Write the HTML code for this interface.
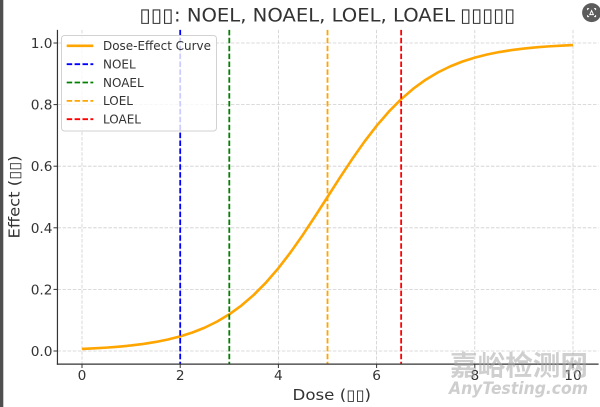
<!DOCTYPE html>
<html>
<head>
<meta charset="utf-8">
<style>
  html, body { margin: 0; padding: 0; background: #ffffff; }
  svg { display: block; }
  text { font-family: "DejaVu Sans", "Liberation Sans", "Noto Sans CJK SC", sans-serif; }
</style>
</head>
<body>
<svg width="600" height="407" viewBox="0 0 600 407" xmlns="http://www.w3.org/2000/svg">
  <rect x="0" y="0" width="600" height="407" fill="#ffffff"/>

  <!-- left dark border -->
  <rect x="0" y="0" width="3.3" height="407" fill="#4f4f4f"/>

  <!-- grid -->
  <g stroke="#cfcfcf" stroke-width="0.8" stroke-dasharray="3.5 1.6" fill="none">
    <line x1="82" y1="29.9" x2="82" y2="364.1"/>
    <line x1="180.2" y1="29.9" x2="180.2" y2="364.1"/>
    <line x1="278.4" y1="29.9" x2="278.4" y2="364.1"/>
    <line x1="376.6" y1="29.9" x2="376.6" y2="364.1"/>
    <line x1="474.8" y1="29.9" x2="474.8" y2="364.1"/>
    <line x1="573" y1="29.9" x2="573" y2="364.1"/>
    <line x1="57.45" y1="351" x2="598.55" y2="351"/>
    <line x1="57.45" y1="289.4" x2="598.55" y2="289.4"/>
    <line x1="57.45" y1="227.8" x2="598.55" y2="227.8"/>
    <line x1="57.45" y1="166.2" x2="598.55" y2="166.2"/>
    <line x1="57.45" y1="104.6" x2="598.55" y2="104.6"/>
    <line x1="57.45" y1="43" x2="598.55" y2="43"/>
  </g>

  <!-- dose-effect curve -->
  <polyline fill="none" stroke="#FFA500" stroke-width="2.6" stroke-linejoin="round" stroke-linecap="butt"
    points="82,348.94 94.275,348.36 106.55,347.62 118.825,346.67 131.1,345.46 143.375,343.92 155.65,341.97 167.925,339.50 180.2,336.39 192.475,332.49 204.75,327.64 217.025,321.63 229.3,314.29 241.575,305.40 253.85,294.81 266.125,282.41 278.4,268.17 290.675,252.19 302.95,234.72 315.225,216.15 327.5,197 339.775,177.85 352.05,159.28 364.325,141.81 376.6,125.83 388.875,111.59 401.15,99.19 413.425,88.60 425.7,79.71 437.975,72.37 450.25,66.36 462.525,61.51 474.8,57.61 487.075,54.50 499.35,52.03 511.625,50.08 523.9,48.54 536.175,47.33 548.45,46.38 560.725,45.64 573,45.06"/>

  <!-- vertical dashed lines -->
  <g stroke-width="1.8" stroke-dasharray="5.5 2.4" fill="none">
    <line x1="180.2" y1="29.9" x2="180.2" y2="364.1" stroke="#0000FF"/>
    <line x1="229.3" y1="29.9" x2="229.3" y2="364.1" stroke="#008000"/>
    <line x1="327.5" y1="29.9" x2="327.5" y2="364.1" stroke="#FFA500"/>
    <line x1="401.15" y1="29.9" x2="401.15" y2="364.1" stroke="#FF0000"/>
  </g>

  <!-- spines -->
  <g stroke="#333333" stroke-width="1.2" fill="none">
    <line x1="57.45" y1="29.9" x2="57.45" y2="364.7"/>
    <line x1="56.85" y1="364.1" x2="598.6" y2="364.1"/>
  </g>
  <!-- ticks -->
  <g stroke="#333333" stroke-width="1" fill="none">
    <line x1="82" y1="364.1" x2="82" y2="368"/>
    <line x1="180.2" y1="364.1" x2="180.2" y2="368"/>
    <line x1="278.4" y1="364.1" x2="278.4" y2="368"/>
    <line x1="376.6" y1="364.1" x2="376.6" y2="368"/>
    <line x1="474.8" y1="364.1" x2="474.8" y2="368"/>
    <line x1="573" y1="364.1" x2="573" y2="368"/>
    <line x1="53.5" y1="351" x2="57.45" y2="351"/>
    <line x1="53.5" y1="289.4" x2="57.45" y2="289.4"/>
    <line x1="53.5" y1="227.8" x2="57.45" y2="227.8"/>
    <line x1="53.5" y1="166.2" x2="57.45" y2="166.2"/>
    <line x1="53.5" y1="104.6" x2="57.45" y2="104.6"/>
    <line x1="53.5" y1="43" x2="57.45" y2="43"/>
  </g>

  <!-- tick labels -->
  <g fill="#333333" font-size="13.7">
    <g text-anchor="middle">
      <text x="82" y="380">0</text>
      <text x="180.2" y="380">2</text>
      <text x="278.4" y="380">4</text>
      <text x="376.6" y="380">6</text>
      <text x="474.8" y="380">8</text>
      <text x="573" y="380">10</text>
    </g>
    <g text-anchor="end">
      <text x="52.5" y="356">0.0</text>
      <text x="52.5" y="294.4">0.2</text>
      <text x="52.5" y="232.8">0.4</text>
      <text x="52.5" y="171.2">0.6</text>
      <text x="52.5" y="109.6">0.8</text>
      <text x="52.5" y="48">1.0</text>
    </g>
  </g>

  <!-- axis labels -->
  <text x="292.5" y="400" font-size="15" fill="#333333" textLength="78.5" lengthAdjust="spacingAndGlyphs">Dose (▯▯)</text>
  <text transform="translate(19.3,197) rotate(-90)" text-anchor="middle" font-size="15" fill="#333333" textLength="83" lengthAdjust="spacingAndGlyphs">Effect (▯▯)</text>

  <!-- title -->
  <g fill="#333333" font-size="19">
    <text x="139.3" y="21.7" textLength="34" lengthAdjust="spacingAndGlyphs">▯▯▯</text>
    <text x="174" y="21.7" textLength="281" lengthAdjust="spacingAndGlyphs">: NOEL, NOAEL, LOEL, LOAEL</text>
    <text x="460" y="21.7" textLength="55" lengthAdjust="spacingAndGlyphs">▯▯▯▯▯</text>
  </g>

  <!-- legend -->
  <rect x="61.5" y="35.5" width="155" height="95.5" rx="3" ry="3" fill="#ffffff" fill-opacity="0.8" stroke="#d2d2d2" stroke-width="1"/>
  <g fill="none" stroke-width="1.8">
    <line x1="66.7" y1="45.8" x2="93.3" y2="45.8" stroke="#FFA500" stroke-width="2.6"/>
    <line x1="66.7" y1="64.2" x2="93.3" y2="64.2" stroke="#0000FF" stroke-dasharray="5.5 2.4"/>
    <line x1="66.7" y1="82.5" x2="93.3" y2="82.5" stroke="#008000" stroke-dasharray="5.5 2.4"/>
    <line x1="66.7" y1="100.9" x2="93.3" y2="100.9" stroke="#FFA500" stroke-dasharray="5.5 2.4"/>
    <line x1="66.7" y1="119.2" x2="93.3" y2="119.2" stroke="#FF0000" stroke-dasharray="5.5 2.4"/>
  </g>
  <g fill="#333333" font-size="12">
    <text x="103" y="50.1" textLength="108" lengthAdjust="spacingAndGlyphs">Dose-Effect Curve</text>
    <text x="103" y="68.5">NOEL</text>
    <text x="103" y="86.8">NOAEL</text>
    <text x="103" y="105.2">LOEL</text>
    <text x="103" y="123.5">LOAEL</text>
  </g>

  <!-- watermark -->
  <text x="450" y="375" font-family="'Noto Sans CJK SC', 'WenQuanYi Zen Hei', sans-serif" style="font-family:'Noto Sans CJK SC','WenQuanYi Zen Hei',sans-serif" font-weight="bold" font-size="27.5" fill="#a8a8a8" fill-opacity="0.55" textLength="138" lengthAdjust="spacingAndGlyphs">嘉峪检测网</text>
  <text x="449" y="394" font-style="italic" font-weight="bold" font-size="16.5" fill="#bdbdbd" fill-opacity="0.75" textLength="139" lengthAdjust="spacingAndGlyphs">AnyTesting.com</text>

  <!-- top-right icon -->
  <circle cx="591.6" cy="12.6" r="9.5" fill="#5c5c5c"/>
  <g stroke="#ffffff" stroke-width="1" fill="none">
    <path d="M587.6 10.1 V8.6 H589.1 M594.1 8.6 H595.6 V10.1 M595.6 15.1 V16.6 H594.1 M589.1 16.6 H587.6 V15.1"/>
    <path d="M589.8 14.6 L591.6 10.6 L593.4 14.6 Z"/>
  </g>
</svg>
</body>
</html>
